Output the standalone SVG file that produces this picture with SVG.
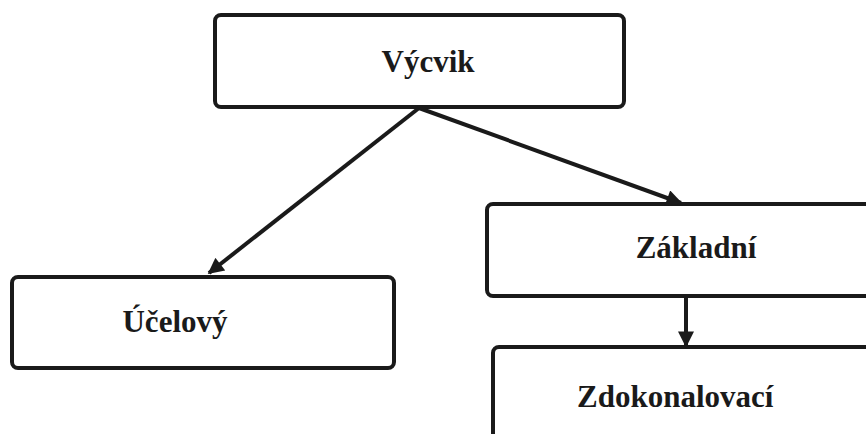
<svg xmlns="http://www.w3.org/2000/svg" width="866" height="434" viewBox="0 0 866 434">
<style>
.box{fill:#fff;stroke:#1a1a1a;stroke-width:4}
.lbl{font-weight:bold;font-size:31px;fill:#1a1a1a}
.conn{stroke:#1a1a1a;stroke-width:4;fill:none}
</style>
<defs>
<marker id="ah" viewBox="0 0 10 10" refX="9" refY="5" markerWidth="4.5" markerHeight="4" orient="auto" markerUnits="strokeWidth">
<path d="M0,0 L10,5 L0,10 z" fill="#1a1a1a"/>
</marker>
</defs>
<rect width="866" height="434" fill="#fff"/>
<g font-family="Liberation Serif, Times New Roman, serif">
<g id="vycvik"><rect class="box" x="215" y="15" width="409" height="92" rx="6"/><text class="lbl" x="428" y="72" text-anchor="middle">Výcvik</text></g>
<g id="ucelovy"><rect class="box" x="12" y="277" width="382" height="91" rx="6"/><text class="lbl" x="175" y="332" text-anchor="middle">Účelový</text></g>
<g id="zakladni"><rect class="box" x="487" y="204" width="400" height="92" rx="6"/><text class="lbl" x="696" y="258" text-anchor="middle">Základní</text></g>
<g id="zdokonalovaci"><rect class="box" x="493" y="347" width="400" height="110" rx="6"/><text class="lbl" x="577" y="407">Zdokonalovací</text></g>
</g>
<g id="connectors">
<line class="conn" x1="419" y1="108" x2="209" y2="273" marker-end="url(#ah)"/>
<line class="conn" x1="419" y1="108" x2="681" y2="203" marker-end="url(#ah)"/>
<line class="conn" x1="686" y1="296" x2="686" y2="346" marker-end="url(#ah)"/>
</g>
</svg>
